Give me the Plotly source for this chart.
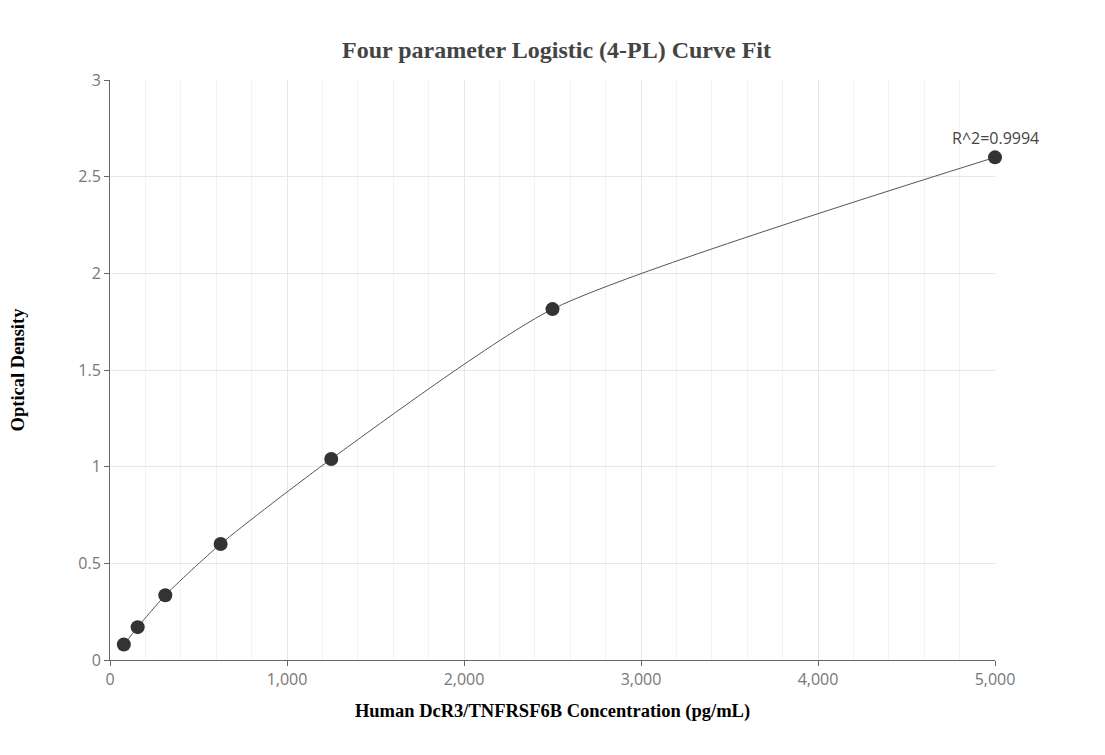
import plotly.graph_objs as go

# 標準曲線のデータ
conc = [78.125, 156.25, 312.5, 625, 1250, 2500, 5000]
od = [0.08, 0.17, 0.335, 0.60, 1.04, 1.815, 2.60]
r2_text = "R^2=0.9994"

fig = go.Figure()

# フィット曲線
fig.add_trace(go.Scatter(
    x=conc, y=od, mode='lines',
    line=dict(color='#555555', width=1, shape='spline', smoothing=0.6),
    hoverinfo='skip', showlegend=False
))

# 測定点
fig.add_trace(go.Scatter(
    x=conc, y=od, mode='markers',
    marker=dict(color='#333333', size=14),
    cliponaxis=False, showlegend=False
))

fig.add_annotation(
    x=conc[-1], y=od[-1], text=r2_text, showarrow=False,
    yshift=19, font=dict(family='Open Sans', size=16, color='#444444')
)

axis_font = dict(family='Times New Roman, Liberation Serif', size=18.5, color='black')

# ページの余白(8px)を考慮してサイズを調整
fig.update_layout(
    width=1097, height=747,
    template='plotly_white',
    title=dict(text='<b>Four parameter Logistic (4-PL) Curve Fit</b>', x=0.5, xanchor='center', y=0.955,
               font=dict(family='Times New Roman, Liberation Serif', size=24, color='#444444')),
    margin=dict(l=102, r=110, t=72, b=95),
    xaxis=dict(
        title=dict(text='<b>Human DcR3/TNFRSF6B Concentration (pg/mL)</b>', font=axis_font, standoff=14),
        range=[0, 5000], tickvals=[0, 1000, 2000, 3000, 4000, 5000],
        tickformat=',', showline=True, linecolor='#666666', linewidth=1,
        ticks='outside', ticklen=5, tickcolor='#666666',
        tickfont=dict(family='Open Sans', size=16, color='#777777'),
        gridcolor='#e3e7ef', zeroline=False,
        minor=dict(dtick=200, showgrid=True, gridcolor='#f1f3f8')
    ),
    yaxis=dict(
        title=dict(text='<b>Optical Density</b>', font=axis_font, standoff=56),
        automargin=False,
        range=[0, 3], dtick=0.5, showline=True, linecolor='#666666', linewidth=1,
        ticks='outside', ticklen=5, tickcolor='#666666',
        tickfont=dict(family='Open Sans', size=16, color='#777777'),
        gridcolor='#e3e7ef', zeroline=False
    )
)

fig.write_html("out.html")
